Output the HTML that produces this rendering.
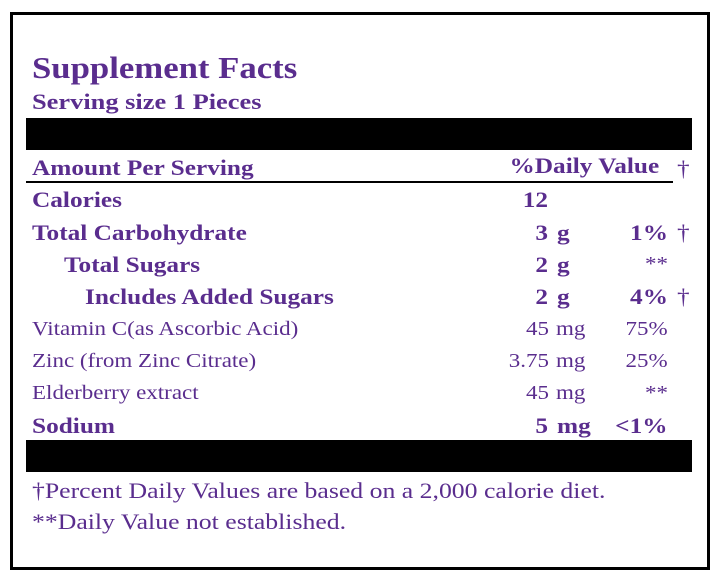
<!DOCTYPE html>
<html><head><meta charset="utf-8"><style>
body{margin:0;width:720px;height:578px;background:#fff;position:relative;overflow:hidden;font-family:"Liberation Serif",serif;color:#5a2d8e}
.box{position:absolute;left:10px;top:12px;width:694px;height:552px;border:3px solid #000}
.bar{position:absolute;left:26px;width:666px;height:32px;background:#000}
.t{position:absolute;white-space:nowrap;line-height:1;transform:scaleX(1.15);transform-origin:left}
.b{font-weight:bold;font-size:22px}
.n{font-size:20px}
.r{text-align:right;transform-origin:right}
</style></head><body>
<div class="box"></div>
<div class="t" style="left:32px;top:52px;font-size:31px;font-weight:bold;transform:scaleX(1.12)">Supplement Facts</div>
<div class="t b" style="left:32px;top:91px;font-size:22px;transform:scaleX(1.2)">Serving size 1 Pieces</div>
<div class="bar" style="top:118px"></div>
<div class="t b" style="left:32px;top:157px">Amount Per Serving</div>
<div class="t b r" style="right:61px;top:155px">%Daily Value</div>
<div class="t b" style="left:677px;top:158px;font-weight:normal">†</div>
<div style="position:absolute;left:26px;top:181px;width:647px;height:2px;background:#000"></div>

<div class="t b" style="left:32px;top:189px">Calories</div>
<div class="t b r" style="right:172px;top:189px">12</div>

<div class="t b" style="left:32px;top:222px">Total Carbohydrate</div>
<div class="t b r" style="right:172px;top:222px">3</div>
<div class="t b" style="left:557px;top:222px">g</div>
<div class="t b r" style="right:52px;top:222px">1%</div>
<div class="t b" style="left:677px;top:222px;font-weight:normal">†</div>

<div class="t b" style="left:64px;top:254px">Total Sugars</div>
<div class="t b r" style="right:172px;top:254px">2</div>
<div class="t b" style="left:557px;top:254px">g</div>
<div class="t n r" style="right:52px;top:254px">**</div>

<div class="t b" style="left:85px;top:286px">Includes Added Sugars</div>
<div class="t b r" style="right:172px;top:286px">2</div>
<div class="t b" style="left:557px;top:286px">g</div>
<div class="t b r" style="right:52px;top:286px">4%</div>
<div class="t b" style="left:677px;top:286px;font-weight:normal">†</div>

<div class="t n" style="left:32px;top:319px">Vitamin C(as Ascorbic Acid)</div>
<div class="t n r" style="right:171px;top:319px">45</div>
<div class="t n" style="left:556px;top:319px">mg</div>
<div class="t n r" style="right:52px;top:319px">75%</div>

<div class="t n" style="left:32px;top:351px">Zinc (from Zinc Citrate)</div>
<div class="t n r" style="right:171px;top:351px">3.75</div>
<div class="t n" style="left:556px;top:351px">mg</div>
<div class="t n r" style="right:52px;top:351px">25%</div>

<div class="t n" style="left:32px;top:383px">Elderberry extract</div>
<div class="t n r" style="right:171px;top:383px">45</div>
<div class="t n" style="left:556px;top:383px">mg</div>
<div class="t n r" style="right:52px;top:383px">**</div>

<div class="t b" style="left:32px;top:415px">Sodium</div>
<div class="t b r" style="right:172px;top:415px">5</div>
<div class="t b" style="left:557px;top:415px">mg</div>
<div class="t b r" style="right:52px;top:415px">&lt;1%</div>

<div class="bar" style="top:440px"></div>
<div class="t" style="left:32px;top:480px;font-size:22px;transform:scaleX(1.17)">†Percent Daily Values are based on a 2,000 calorie diet.</div>
<div class="t" style="left:32px;top:511px;font-size:22px;transform:scaleX(1.17)">**Daily Value not established.</div>
</body></html>
